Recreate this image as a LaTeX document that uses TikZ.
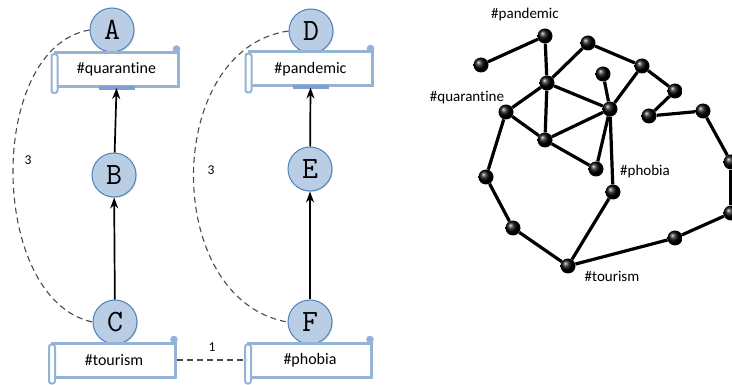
\documentclass[tikz,border=0pt]{standalone}
\usepackage{fontspec}
\setmainfont{Carlito}[Ligatures=NoCommon]
\usetikzlibrary{arrows.meta,shadows,calc}
\definecolor{scrollblue}{HTML}{95B3D7}
\definecolor{scrolldark}{HTML}{7F9FCF}
\definecolor{circfill}{HTML}{B9CDE5}
\definecolor{circline}{HTML}{4F81BD}
\definecolor{dashgray}{HTML}{4A4A4A}
\begin{document}
\begin{tikzpicture}[x=1pt,y=-1pt,
  letter/.style={circle, draw=circline, line width=1pt, fill=circfill, minimum size=44pt, inner sep=0pt,
    font=\fontsize{31}{31}\selectfont\ttfamily, drop shadow={opacity=0.25, shadow xshift=1pt, shadow yshift=-1pt}},
  tag/.style={rectangle, draw=scrollblue, line width=3pt, fill=white, minimum width=123pt, minimum height=34pt,
    inner sep=0pt, font=\fontsize{16}{16}\selectfont},
  ball/.style={circle, inner sep=0pt, minimum size=15pt, shading=ball, ball color=black},
  edge/.style={line width=3.2pt, black},
  lab/.style={font=\fontsize{15}{15}\selectfont},
  num/.style={font=\fontsize{13.5}{13.5}\selectfont},
  arr/.style={-{Stealth[length=11pt,width=8pt]}, line width=1.7pt},
  dsh/.style={dash pattern=on 6pt off 4pt, dashgray, line width=1.1pt}
]
\useasboundingbox (0,0) rectangle (732,385);

% circles
\node[letter] (A) at (112,30) {A};
\node[letter] (B) at (114,175) {B};
\node[letter] (C) at (115,322) {C};
\node[letter] (D) at (311,31) {D};
\node[letter] (E) at (310,169) {E};
\node[letter] (F) at (310,322) {F};

% scroll boxes
\node[tag] (q) at (116.5,69.5) {\#quarantine};
\node[tag] (p) at (310.5,69) {\#pandemic};
\node[tag] (t) at (114,360) {\#tourism};
\node[tag] (ph) at (310,360) {\#phobia};

\foreach \X in {q,p,t,ph}{
  \draw[scrollblue, line width=2pt, fill=white, rounded corners=2.5pt]
    ($(\X.north west)+(-2,3)$) rectangle ($(\X.south west)+(4,5)$);
  \fill[scrollblue] ($(\X.north east)+(-3,-2)$) circle (3.8);
}
\foreach \X in {q,p}{
  \draw[scrolldark, line width=4pt] ($(\X.south)+(-18,0)$) -- ($(\X.south)+(18,0)$);
}

% arrows
\draw[arr] (C) -- (B);
\draw[arr] (B) -- (q.south);
\draw[arr] (F) -- (E);
\draw[arr] (E) -- (p.south);

% dashed relations
\draw[dsh] (A.west) .. controls +(-104,18) and +(-104,-22) .. (C.west);
\draw[dsh] (D.west) .. controls +(-126,18) and +(-126,-22) .. (F.west);
\draw[dsh] (t.east) -- (ph.west);
\node[num] (l1) at (212,347) {1};
\node[num] (l3a) at (28,160) {3};
\node[num] (l3b) at (211,170) {3};

% network
\node[ball] (n1) at (545,36) {};
\node[ball] (n2) at (481,65) {};
\node[ball] (n3) at (588,43) {};
\node[ball] (n4) at (642,66) {};
\node[ball] (n5) at (547,83) {};
\node[ball] (n6) at (603,74) {};
\node[ball] (n7) at (675,91) {};
\node[ball] (n8) at (506,112) {};
\node[ball] (n9) at (610,109) {};
\node[ball] (n10) at (649,116) {};
\node[ball] (n11) at (703,111) {};
\node[ball] (n12) at (545,140) {};
\node[ball] (n13) at (596,169) {};
\node[ball] (n14) at (486,177) {};
\node[ball] (n15) at (613,192) {};
\node[ball] (n16) at (513,228) {};
\node[ball] (n17) at (568,266) {};
\node[ball] (n18) at (675,238) {};
\node[ball] (n19) at (731,162) {};
\node[ball] (n20) at (731,213) {};

\foreach \a/\b in {n2/n1,n1/n5,n5/n3,n3/n4,n4/n7,n7/n10,n10/n11,n11/n19,n19/n20,n20/n18,n18/n17,
  n17/n15,n17/n16,n16/n14,n14/n8,n8/n5,n8/n12,n5/n12,n5/n9,n12/n9,n9/n4,n6/n9,n9/n13,n9/n15,n12/n13}
  \draw[edge] (\a) -- (\b);

\node[lab] (lp) at (525,15) {\#pandemic};
\node[lab] (lq) at (467,98) {\#quarantine};
\node[lab] (lph) at (645,172) {\#phobia};
\node[lab] (lt) at (612,276) {\#tourism};
\end{tikzpicture}
\end{document}
